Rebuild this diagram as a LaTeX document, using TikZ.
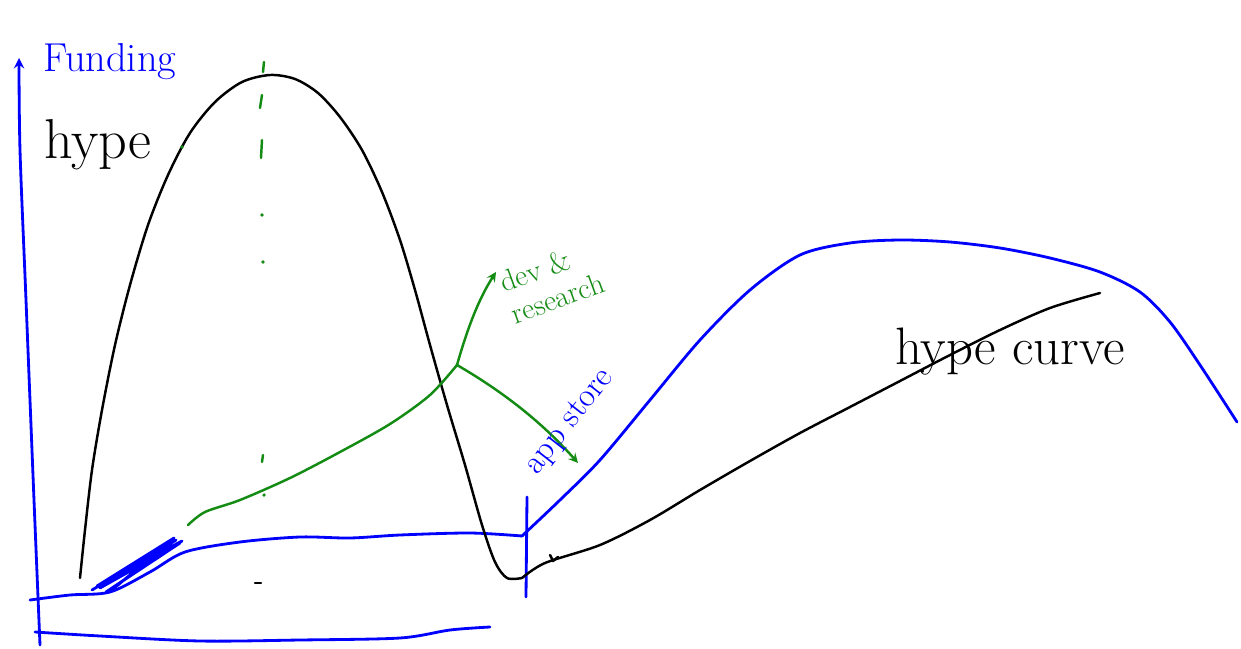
\documentclass[tikz,border=0pt]{standalone}
\definecolor{penblue}{RGB}{0,0,255}
\definecolor{pengreen}{RGB}{20,140,20}
\begin{document}
\begin{tikzpicture}[x=0.02cm, y=-0.02cm, >=stealth,
  bluepen/.style={draw=penblue, line width=1.6pt, line cap=round, line join=round},
  greenpen/.style={draw=pengreen, line width=1.4pt, line cap=round, line join=round},
  blackpen/.style={draw=black, line width=1.4pt, line cap=round, line join=round}]
  \useasboundingbox[fill=white] (0,0) rectangle (1241,649);

  \draw[bluepen, ->] plot[smooth] coordinates {(40,645) (34,500) (26,300) (20,150) (19,58)};
  \draw[bluepen] plot[smooth] coordinates {(35,632) (100,636) (200,641) (300,640) (400,638) (450,630) (490,627)};
  \draw[bluepen] plot[smooth] coordinates {(30,600) (70,595) (110,592) (150,572) (185,552) (240,542) (300,537) (350,538) (400,535) (470,533) (522,536)};
  \draw[bluepen] plot[smooth] coordinates {(522,536) (560,500) (600,460) (650,400) (700,340) (750,290) (800,255) (850,243) (900,240) (950,242) (1000,248) (1050,258) (1100,272) (1140,292) (1170,322) (1200,365) (1237,422)};
  \draw[bluepen] (527,497) -- (526,597);
  \draw[bluepen] (92,590) -- (176,540) -- (100,588) -- (180,543) -- (106,592) -- (182,541) -- (97,586) -- (174,538) -- (112,590);

  \draw[blackpen] plot[smooth] coordinates {(80,578) (85,530) (92,470) (102,410) (115,345) (130,285) (148,225) (168,175) (190,133) (215,102) (242,82) (270,75) (295,79) (318,93) (340,117) (362,150) (382,192) (400,240) (415,290) (430,345) (447,405) (465,465) (482,525) (495,562) (507,578) (522,578)};
  \draw[blackpen] plot[smooth] coordinates {(522,578) (545,563) (600,545) (650,520) (700,490) (750,461) (800,433) (850,407) (900,381) (950,355) (1000,330) (1050,308) (1100,293)};
  \draw[blackpen] (550,555) -- (553,561) -- (558,557);
  \draw[blackpen] (255,583) -- (261,583);

  \draw[greenpen] (264,62) -- (263,72);
  \draw[greenpen] (262,95) -- (260,108);
  \draw[greenpen] (262,140) -- (261,158);
  \draw[greenpen] (263,455) -- (262,462);
  \fill[pengreen] (262,215) circle (1pt);
  \fill[pengreen] (263,262) circle (1pt);
  \fill[pengreen] (264,495) circle (1pt);
  \fill[pengreen] (182,147) circle (1pt);

  \coordinate (fork) at (457,365);
  \coordinate (devtip) at (496,272);
  \coordinate (apptip) at (578,463);
  \draw[greenpen] plot[smooth] coordinates {(188,525) (205,512) (240,500) (290,478) (340,452) (390,424) (430,395) (457,365)};
  \draw[greenpen, ->] (fork) .. controls (467,330) and (478,300) .. (devtip);
  \draw[greenpen, ->] (fork) .. controls (500,390) and (540,420) .. (apptip);

  \node[text=penblue, font=\fontsize{23}{25}\selectfont] (funding) at (110,62) {Funding};
  \node[font=\fontsize{32}{34}\selectfont] (hype) at (98,145) {hype};
  \node[text=pengreen, font=\fontsize{17}{19}\selectfont, align=left, rotate=20] (devres) at (552,282) {dev \&\\research};
  \node[text=penblue, font=\fontsize{19}{21}\selectfont, rotate=52] (appstore) at (570,422) {app store};
  \node[font=\fontsize{30}{32}\selectfont] (hypecurve) at (1010,352) {hype curve};
\end{tikzpicture}
\end{document}
